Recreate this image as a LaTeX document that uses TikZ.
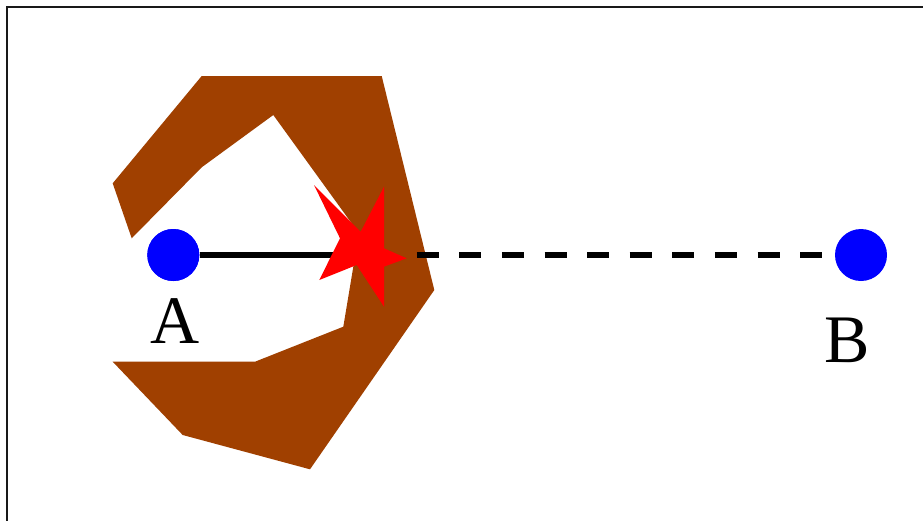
\documentclass[tikz,border=0pt]{standalone}
\usepackage{fontspec}
\setmainfont{Liberation Serif}
\definecolor{rust}{RGB}{160,64,0}
\definecolor{dotblue}{RGB}{0,0,255}
\definecolor{starred}{RGB}{255,0,0}
\begin{document}
\begin{tikzpicture}[x=1pt,y=-1pt,
  dot/.style={circle,fill=dotblue,inner sep=0pt,minimum size=52pt},
  lab/.style={font=\fontsize{68}{80}\selectfont,anchor=base,inner sep=0pt},
  link/.style={line width=5.5pt,black},
  frame/.style={line width=2pt,draw=black!90}]
\useasboundingbox (0,0) rectangle (923,520);
\clip (0,0) rectangle (923,520);
\fill[white] (0,0) rectangle (923,520);
\draw[frame] (6.8,6.8) rectangle (1000,600);
% brown obstacle
\fill[rust] (201.7,76) -- (381.7,76) -- (434.3,290) -- (310,469.3) -- (182.7,435)
  -- (112.7,361.7) -- (255,361.7) -- (343.3,326.7) -- (358.9,233.3)
  -- (273.3,115) -- (201.7,167.3) -- (131.7,238.3) -- (112.7,183.3) -- cycle;
% points
\node[dot] (A) at (173.3,255) {};
\node[dot] (B) at (861,255) {};
\coordinate (S) at (361.7,255);
\coordinate (D) at (416.7,255);
\draw[link] (A) -- (S);
\draw[link,dash pattern=on 22pt off 20.6pt] (D) -- (B.west);
% star
\fill[starred] (314,185) -- (360.7,231.7) -- (384,186.7) -- (384,248.3) -- (406.7,258.3)
  -- (384,266.7) -- (384,306.7) -- (356.7,265) -- (319.3,280) -- (340,238.3) -- cycle;
\node[dot] at (A) {};
\node[lab] (la) at (175,343) {A};
\node[lab] (lb) at (847,362) {B};
\end{tikzpicture}
\end{document}
